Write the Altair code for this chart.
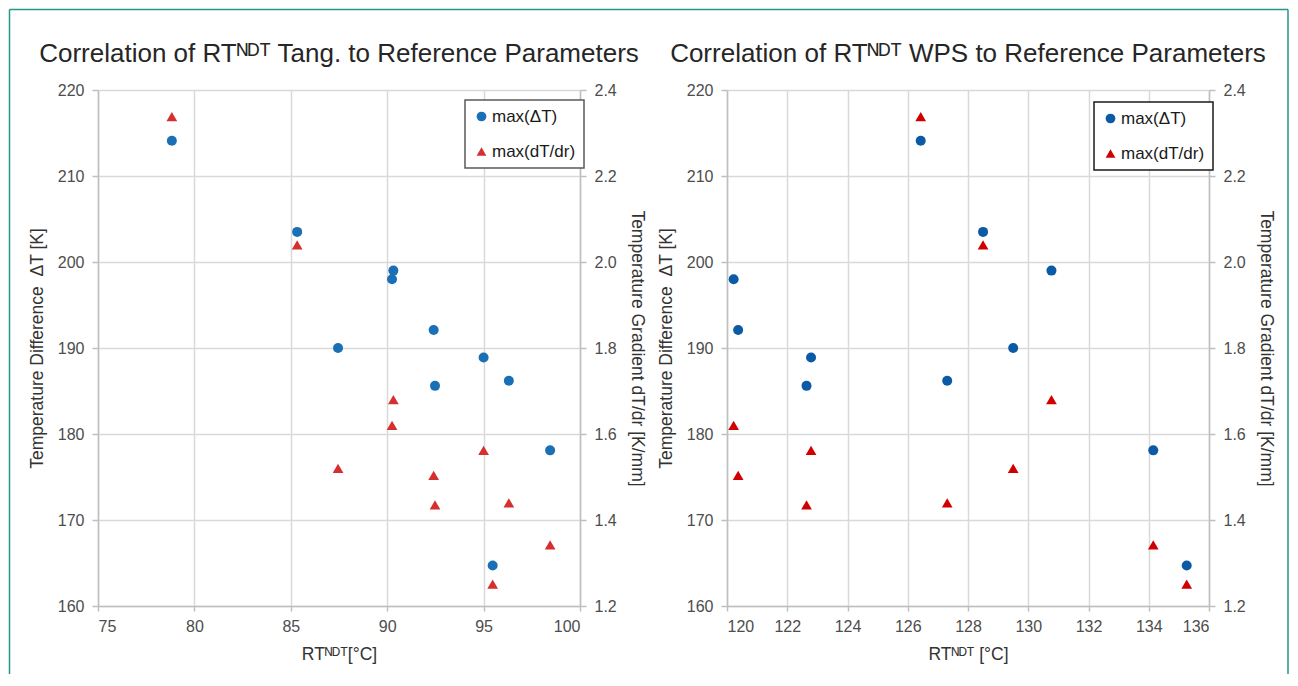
import altair as alt
import pandas as pd

SERIES = ["max(ΔT)", "max(dT/dr)"]

# values per specimen
rt_tang = [78.83, 85.33, 90.32, 90.25, 87.45, 92.41, 95.00, 92.48, 96.31, 98.45, 95.47]
rt_wps = [126.43, 128.50, 130.77, 120.22, 129.50, 120.37, 122.79, 122.64, 127.31, 134.15, 135.26]
max_dT = [214.1, 203.5, 199.0, 198.0, 190.0, 192.1, 188.9, 185.6, 186.2, 178.1, 164.7]
max_grad = [2.338, 2.040, 1.680, 1.620, 1.520, 1.504, 1.562, 1.435, 1.440, 1.342, 1.251]

tang_ticks = [75, 80, 85, 90, 95, 100]
wps_ticks = [120, 122, 124, 126, 128, 130, 132, 134, 136]
dT_ticks = [160, 170, 180, 190, 200, 210, 220]
grad_ticks = [1.2, 1.4, 1.6, 1.8, 2.0, 2.2, 2.4]

TITLES = ["Correlation of RTᴺᴰᵀ Tang. to Reference Parameters",
          "Correlation of RTᴺᴰᵀ WPS to Reference Parameters"]

FONT = "Liberation Sans"
W, H = 482, 516


def long_table(rt):
    rows = []
    for r, a, b in zip(rt, max_dT, max_grad):
        rows.append({"rt": r, "series": SERIES[0], "value": a})
        rows.append({"rt": r, "series": SERIES[1], "value": b})
    return pd.DataFrame(rows)


def panel(rt, x_ticks, x_title, title, blue, red, leg_stroke, leg_y, frame=False):
    df = long_table(rt)
    x_enc = alt.X(
        "rt:Q",
        scale=alt.Scale(domain=[x_ticks[0], x_ticks[-1]], nice=False, zero=False),
        axis=alt.Axis(values=x_ticks, title=x_title, grid=True, format="d",
                      tickSize=5, labelPadding=7, titlePadding=11),
    )
    legend = alt.Legend(
        title=None, orient="none", legendX=367, legendY=leg_y,
        strokeColor=leg_stroke, fillColor="white",
        padding=8, rowPadding=17, labelFont=FONT, labelFontSize=17,
        labelColor="#1a1a1a", symbolSize=95, symbolStrokeWidth=0,
        labelOffset=2, cornerRadius=0,
    )
    color = alt.Color("series:N", scale=alt.Scale(domain=SERIES, range=[blue, red]), legend=legend)
    shape = alt.Shape("series:N", scale=alt.Scale(domain=SERIES, range=["circle", "triangle-up"]), legend=legend)
    base = alt.Chart(df)
    dots = base.transform_filter(alt.datum.series == SERIES[0]).mark_point(
        filled=True, opacity=1, size=100
    ).encode(
        x=x_enc,
        y=alt.Y("value:Q", scale=alt.Scale(domain=[160, 220], nice=False, zero=False),
                axis=alt.Axis(orient="left", values=dT_ticks, grid=True,
                              title="Temperature Difference\u00a0 ΔT [K]",
                              tickSize=6, labelPadding=8, titlePadding=11)),
        color=color, shape=shape,
    )
    tris = base.transform_filter(alt.datum.series == SERIES[1]).mark_point(
        filled=True, opacity=1, size=115
    ).encode(
        x=x_enc,
        y=alt.Y("value:Q", scale=alt.Scale(domain=[1.2, 2.4], nice=False, zero=False),
                axis=alt.Axis(orient="right", values=grad_ticks, grid=False, format=".1f",
                              title="Temperature Gradient dT/dr [K/mm]",
                              tickSize=6, labelPadding=8, titlePadding=11)),
        color=color, shape=shape,
    )
    one = alt.Chart(pd.DataFrame({"title": [title]}))
    head = one.mark_text(
        font=FONT, fontSize=26, color="#262626", align="center", baseline="alphabetic"
    ).encode(text="title:N", x=alt.value(W / 2), y=alt.value(-28))
    layers = [dots, tris, head]
    if frame:
        fc = "#23968b"
        top = one.mark_rule(color=fc, strokeWidth=1.5).encode(
            x=alt.value(-88.5), x2=alt.value(1190), y=alt.value(-80.5))
        left = one.mark_rule(color=fc, strokeWidth=1.5).encode(
            x=alt.value(-88.5), y=alt.value(-80.5), y2=alt.value(584))
        right = one.mark_rule(color=fc, strokeWidth=1.5).encode(
            x=alt.value(1190), y=alt.value(-80.5), y2=alt.value(584))
        layers += [top, left, right]
    return alt.layer(*layers).resolve_scale(y="independent").properties(width=W, height=H)


left_panel = panel(rt_tang, tang_ticks, "RTᴺᴰᵀ[°C]", TITLES[0],
                   "#1a6fb5", "#d62f2f", "#595959", 10, frame=True)
right_panel = panel(rt_wps, wps_ticks, "RTᴺᴰᵀ [°C]", TITLES[1],
                    "#0b5aa6", "#d00000", "#1a1a1a", 12)

chart = alt.hconcat(left_panel, right_panel, spacing=147, bounds="flush").resolve_scale(
    color="independent", shape="independent"
).resolve_legend(color="independent", shape="independent").properties(
    padding=0, background="white"
).configure_view(stroke=None).configure_axis(
    labelFont=FONT, labelFontSize=16, labelColor="#4d4d4d",
    titleFont=FONT, titleFontSize=17.5, titleColor="#333333", titleFontWeight="normal",
    domainColor="#bfbfbf", domainWidth=1.5, tickColor="#bfbfbf", tickWidth=1.5,
    gridColor="#d9d9d9", gridWidth=1.5,
).configure_legend(strokeWidth=1.5)

chart.save("out.html", embed_options={"renderer": "svg", "actions": False})
